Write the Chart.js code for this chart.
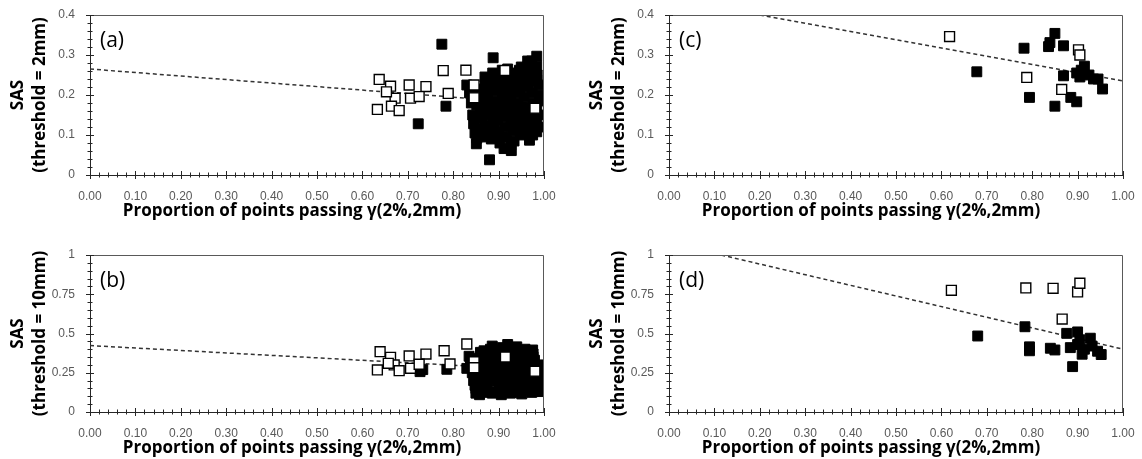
<!DOCTYPE html>
<html>
<head>
<meta charset="utf-8">
<script src="https://cdn.jsdelivr.net/npm/chart.js@4.4.1/dist/chart.umd.min.js"></script>
<style>
  html, body { margin: 0; padding: 0; background: #fff; }
  #wrap { position: relative; width: 1142px; height: 459px; overflow: hidden; }
  .panel { position: absolute; }
</style>
</head>
<body>
<div id="wrap">
  <div class="panel" style="left:0;top:0;width:571px;height:230px"><canvas id="chartA"></canvas></div>
  <div class="panel" style="left:571px;top:0;width:571px;height:230px"><canvas id="chartC"></canvas></div>
  <div class="panel" style="left:0;top:230px;width:571px;height:229px"><canvas id="chartB"></canvas></div>
  <div class="panel" style="left:571px;top:230px;width:571px;height:229px"><canvas id="chartD"></canvas></div>
</div>
<script>
// ---- data ----
const xTickLabels = ['0.00', '0.10', '0.20', '0.30', '0.40', '0.50', '0.60', '0.70', '0.80', '0.90', '1.00'];
const yTicks2mm = ['0', '0.1', '0.2', '0.3', '0.4'];
const yTicks10mm = ['0', '0.25', '0.5', '0.75', '1'];
const xTitle = 'Proportion of points passing γ(2%,2mm)';

// (a) threshold = 2mm, left cohort
const aOpenX = [0.637, 0.662, 0.703, 0.740, 0.633, 0.672, 0.664, 0.681, 0.653, 0.706, 0.725, 0.778, 0.789, 0.828, 0.846, 0.846, 0.914, 0.980];
const aOpenY = [0.239, 0.222, 0.225, 0.221, 0.164, 0.192, 0.172, 0.161, 0.208, 0.192, 0.196, 0.261, 0.204, 0.262, 0.225, 0.193, 0.261, 0.167];
const aFilledX = [0.775, 0.723, 0.784, 0.880, 0.888, 0.830, 0.836, 0.840, 0.843, 0.845, 0.848, 0.851, 0.855, 0.858, 0.860, 0.862,
  0.865, 0.868, 0.870, 0.873, 0.876, 0.878, 0.880, 0.882, 0.884, 0.887, 0.890, 0.892, 0.894, 0.896, 0.898, 0.900,
  0.903, 0.905, 0.907, 0.909, 0.911, 0.913, 0.915, 0.917, 0.912, 0.928, 0.920, 0.922, 0.924, 0.926, 0.928, 0.930,
  0.932, 0.934, 0.936, 0.938, 0.940, 0.942, 0.944, 0.946, 0.948, 0.950, 0.952, 0.954, 0.956, 0.958, 0.960, 0.962,
  0.968, 0.964, 0.973, 0.984, 0.970, 0.972, 0.974, 0.976, 0.978, 0.980, 0.975, 0.988, 0.990, 0.995, 0.992, 0.990, 0.985,
  0.852, 0.852, 0.852, 0.852, 0.852, 0.871, 0.871, 0.871, 0.871, 0.871, 0.871, 0.889, 0.889, 0.889, 0.889, 0.889, 0.889,
  0.908, 0.908, 0.908, 0.908, 0.908, 0.908, 0.927, 0.927, 0.927, 0.927, 0.927, 0.927, 0.927, 0.946, 0.946, 0.946, 0.946,
  0.946, 0.946, 0.965, 0.965, 0.965, 0.965, 0.965, 0.965, 0.984, 0.984, 0.984, 0.984, 0.984];
const aFilledY = [0.327, 0.128, 0.172, 0.038, 0.293, 0.225, 0.205, 0.180, 0.150, 0.128, 0.105, 0.078, 0.215, 0.190, 0.165, 0.140,
  0.115, 0.095, 0.245, 0.228, 0.200, 0.175, 0.150, 0.125, 0.090, 0.255, 0.230, 0.210, 0.185, 0.160, 0.135, 0.110,
  0.080, 0.250, 0.225, 0.195, 0.170, 0.145, 0.120, 0.095, 0.066, 0.061, 0.265, 0.240, 0.215, 0.190, 0.165, 0.140,
  0.110, 0.085, 0.255, 0.230, 0.205, 0.180, 0.155, 0.125, 0.100, 0.270, 0.245, 0.220, 0.195, 0.170, 0.145, 0.115,
  0.087, 0.285, 0.285, 0.297, 0.260, 0.235, 0.205, 0.180, 0.150, 0.125, 0.100, 0.225, 0.200, 0.185, 0.120, 0.150, 0.250,
  0.205, 0.175, 0.145, 0.115, 0.092, 0.235, 0.208, 0.180, 0.152, 0.122, 0.105, 0.242, 0.218, 0.172, 0.145, 0.118, 0.098,
  0.262, 0.238, 0.212, 0.185, 0.158, 0.095, 0.252, 0.228, 0.202, 0.178, 0.150, 0.122, 0.075, 0.262, 0.232, 0.212, 0.165,
  0.138, 0.112, 0.272, 0.248, 0.225, 0.158, 0.132, 0.105, 0.272, 0.238, 0.165, 0.138, 0.108];
const aTrendX = [0, 1];
const aTrendY = [0.265, 0.177];

// (b) threshold = 10mm, left cohort
const bOpenX = [0.639, 0.662, 0.703, 0.740, 0.633, 0.670, 0.681, 0.706, 0.725, 0.657, 0.780, 0.793, 0.830, 0.846, 0.846, 0.915, 0.980];
const bOpenY = [0.384, 0.348, 0.357, 0.369, 0.268, 0.300, 0.263, 0.278, 0.304, 0.310, 0.390, 0.306, 0.433, 0.320, 0.282, 0.350, 0.260];
const bFilledX = [0.727, 0.733, 0.786, 0.830, 0.835, 0.838, 0.842, 0.845, 0.848, 0.852, 0.858, 0.860, 0.862, 0.865, 0.868, 0.870,
  0.873, 0.876, 0.879, 0.882, 0.885, 0.888, 0.891, 0.894, 0.897, 0.900, 0.903, 0.906, 0.908, 0.911, 0.914, 0.917,
  0.920, 0.922, 0.924, 0.926, 0.920, 0.930, 0.933, 0.936, 0.939, 0.942, 0.945, 0.948, 0.951, 0.955, 0.958, 0.961,
  0.964, 0.967, 0.970, 0.973, 0.976, 0.979, 0.982, 0.985, 0.988, 0.990, 0.996, 0.975,
  0.850, 0.850, 0.850, 0.850, 0.850, 0.850, 0.868, 0.868, 0.868, 0.868, 0.868, 0.868, 0.868,
  0.886, 0.886, 0.886, 0.886, 0.886, 0.886, 0.886, 0.904, 0.904, 0.904, 0.904, 0.904, 0.904, 0.904,
  0.922, 0.922, 0.922, 0.922, 0.922, 0.922, 0.922, 0.940, 0.940, 0.940, 0.940, 0.940, 0.940, 0.940,
  0.958, 0.958, 0.958, 0.958, 0.958, 0.958, 0.958, 0.976, 0.976, 0.976, 0.976, 0.976, 0.976,
  0.994, 0.994, 0.994, 0.994, 0.994];
const bFilledY = [0.257, 0.270, 0.272, 0.278, 0.355, 0.320, 0.250, 0.200, 0.170, 0.130, 0.110, 0.380, 0.340, 0.300, 0.260, 0.220,
  0.185, 0.150, 0.125, 0.400, 0.360, 0.320, 0.280, 0.240, 0.200, 0.165, 0.130, 0.110, 0.410, 0.370, 0.310, 0.270,
  0.230, 0.190, 0.150, 0.120, 0.430, 0.395, 0.355, 0.300, 0.260, 0.215, 0.175, 0.140, 0.115, 0.380, 0.340, 0.290,
  0.250, 0.205, 0.160, 0.125, 0.370, 0.330, 0.280, 0.235, 0.190, 0.150, 0.230, 0.395,
  0.340, 0.290, 0.240, 0.190, 0.150, 0.120, 0.390, 0.350, 0.310, 0.270, 0.230, 0.190, 0.140,
  0.420, 0.380, 0.335, 0.295, 0.255, 0.215, 0.120, 0.395, 0.350, 0.300, 0.260, 0.220, 0.180, 0.140,
  0.410, 0.370, 0.330, 0.285, 0.245, 0.205, 0.135, 0.415, 0.375, 0.335, 0.280, 0.240, 0.195, 0.125,
  0.400, 0.360, 0.315, 0.270, 0.230, 0.185, 0.140, 0.350, 0.305, 0.260, 0.215, 0.170, 0.130,
  0.300, 0.260, 0.200, 0.160, 0.130];
const bTrendX = [0, 1];
const bTrendY = [0.423, 0.267];

// (c) threshold = 2mm, right cohort
const cOpenX = [0.618, 0.788, 0.865, 0.902, 0.905];
const cOpenY = [0.346, 0.244, 0.214, 0.313, 0.300];
const cFilledX = [0.678, 0.782, 0.794, 0.836, 0.839, 0.850, 0.869, 0.869, 0.850, 0.885, 0.898, 0.898, 0.905, 0.915, 0.925, 0.935, 0.945, 0.955, 0.908];
const cFilledY = [0.258, 0.317, 0.194, 0.321, 0.331, 0.354, 0.323, 0.248, 0.172, 0.194, 0.183, 0.255, 0.245, 0.272, 0.250, 0.240, 0.240, 0.215, 0.262];
const cTrendX = [0.2, 1];
const cTrendY = [0.4, 0.235];

// (d) threshold = 10mm, right cohort
const dOpenX = [0.622, 0.786, 0.846, 0.866, 0.900, 0.905];
const dOpenY = [0.775, 0.790, 0.788, 0.592, 0.765, 0.820];
const dFilledX = [0.680, 0.784, 0.794, 0.794, 0.840, 0.850, 0.876, 0.884, 0.889, 0.900, 0.905, 0.910, 0.915, 0.928, 0.932, 0.944, 0.952, 0.900];
const dFilledY = [0.484, 0.543, 0.415, 0.390, 0.406, 0.395, 0.501, 0.410, 0.289, 0.510, 0.460, 0.368, 0.400, 0.470, 0.420, 0.387, 0.366, 0.430];
const dTrendX = [0.115, 1];
const dTrendY = [1.0, 0.40];

function pts(xs, ys) {
    return xs.map((x, i) => ({ x: x, y: ys[i] }));
}

// Excel-like frame: box around plot area, major + minor tick marks, panel letter, x title
const excelFrame = {
    id: 'excelFrame',
    afterDraw(chart, args, opts) {
        const ctx = chart.ctx;
        const area = chart.chartArea;
        const xs = chart.scales.x;
        const ys = chart.scales.y;
        ctx.save();
        ctx.strokeStyle = '#595959';
        ctx.lineWidth = 1;
        ctx.beginPath();
        ctx.moveTo(area.left, area.top + 0.5);
        ctx.lineTo(area.right - 0.5, area.top + 0.5);
        ctx.lineTo(area.right - 0.5, area.bottom);
        ctx.stroke();

        ctx.strokeStyle = '#262626';
        ctx.beginPath();
        const nx = Math.round((xs.max - xs.min) / opts.xMinor);
        for (let i = 0; i <= nx; i++) {
            const px = Math.round(xs.getPixelForValue(xs.min + i * opts.xMinor)) + 0.5;
            const len = i % 5 === 0 ? 4 : 2.5;
            ctx.moveTo(px, area.bottom - len);
            ctx.lineTo(px, area.bottom + len);
        }
        const ny = Math.round((ys.max - ys.min) / opts.yMinor);
        for (let i = 0; i <= ny; i++) {
            const py = Math.round(ys.getPixelForValue(ys.min + i * opts.yMinor)) + 0.5;
            const len = i % 5 === 0 ? 4 : 2.5;
            ctx.moveTo(area.left - len, py);
            ctx.lineTo(area.left + len, py);
        }
        ctx.stroke();

        ctx.fillStyle = '#000';
        ctx.font = '21px "Open Sans"';
        ctx.textBaseline = 'middle';
        ctx.textAlign = 'left';
        ctx.fillText(opts.label, area.left + 10, area.top + 26);

        // x axis title sits a little left of centre, as in the original
        ctx.font = 'bold 17px "Open Sans"';
        ctx.textAlign = 'center';
        ctx.fillText(xTitle, (area.left + area.right) / 2 - 25, area.bottom + 36);
        ctx.restore();
    }
};

function makePanel(id, cfg) {
    const ctx = document.getElementById(id).getContext('2d');
    return new Chart(ctx, {
        type: 'scatter',
        data: {
            datasets: [{
                data: pts(cfg.openX, cfg.openY),
                pointStyle: 'rect',
                pointRadius: 7,
                pointHoverRadius: 7,
                backgroundColor: '#fff',
                borderColor: '#000',
                borderWidth: 1.4,
                order: 0
            }, {
                data: pts(cfg.filledX, cfg.filledY),
                pointStyle: 'rect',
                pointRadius: 7,
                pointHoverRadius: 7,
                backgroundColor: '#000',
                borderColor: '#000',
                borderWidth: 1,
                order: 1
            }, {
                data: pts(cfg.trendX, cfg.trendY),
                showLine: true,
                pointRadius: 0,
                borderColor: '#333',
                borderWidth: 1.5,
                borderDash: [4, 3],
                order: 2
            }]
        },
        options: {
            responsive: true,
            maintainAspectRatio: false,
            animation: false,
            events: [],
            layout: {
                padding: { top: cfg.padTop, right: cfg.padRight, left: 0, bottom: 0 }
            },
            plugins: {
                legend: { display: false },
                tooltip: { enabled: false },
                excelFrame: { label: cfg.label, xMinor: 0.02, yMinor: cfg.yMinor }
            },
            scales: {
                x: {
                    type: 'linear',
                    min: 0,
                    max: 1,
                    grid: { display: false },
                    border: { display: true, color: '#262626', width: 1 },
                    afterFit: (s) => { s.height = cfg.xAxisHeight; },
                    ticks: {
                        stepSize: 0.1,
                        maxRotation: 0,
                        autoSkip: false,
                        padding: 6,
                        color: '#595959',
                        font: { family: 'Liberation Sans', size: 12 },
                        callback: (v) => xTickLabels[Math.round(v * 10)]
                    },
                    title: { display: false }
                },
                y: {
                    type: 'linear',
                    min: 0,
                    max: cfg.yMax,
                    grid: { display: false },
                    border: { display: true, color: '#262626', width: 1 },
                    afterFit: (s) => { s.width = cfg.yAxisWidth; },
                    ticks: {
                        stepSize: cfg.yStep,
                        autoSkip: false,
                        padding: 7,
                        color: '#595959',
                        font: { family: 'Liberation Sans', size: 12 },
                        callback: (v, i) => cfg.yLabels[i]
                    },
                    title: {
                        display: true,
                        text: cfg.yTitle,
                        color: '#000',
                        font: { family: 'Open Sans', size: 17, weight: 'bold', lineHeight: 1.3 },
                        padding: { top: cfg.yTitlePad, bottom: 0 }
                    }
                }
            }
        },
        plugins: [excelFrame]
    });
}

makePanel('chartA', {
    label: '(a)', openX: aOpenX, openY: aOpenY, filledX: aFilledX, filledY: aFilledY, trendX: aTrendX, trendY: aTrendY,
    yMax: 0.4, yStep: 0.1, yMinor: 0.02, yLabels: yTicks2mm, yTitle: ['SAS', '(threshold = 2mm)'],
    padTop: 15, padRight: 27, yAxisWidth: 90, xAxisHeight: 55, yTitlePad: 7
});
makePanel('chartC', {
    label: '(c)', openX: cOpenX, openY: cOpenY, filledX: cFilledX, filledY: cFilledY, trendX: cTrendX, trendY: cTrendY,
    yMax: 0.4, yStep: 0.1, yMinor: 0.02, yLabels: yTicks2mm, yTitle: ['SAS', '(threshold = 2mm)'],
    padTop: 15, padRight: 19, yAxisWidth: 98, xAxisHeight: 55, yTitlePad: 15
});
makePanel('chartB', {
    label: '(b)', openX: bOpenX, openY: bOpenY, filledX: bFilledX, filledY: bFilledY, trendX: bTrendX, trendY: bTrendY,
    yMax: 1, yStep: 0.25, yMinor: 0.05, yLabels: yTicks10mm, yTitle: ['SAS', '(threshold = 10mm)'],
    padTop: 25, padRight: 27, yAxisWidth: 90, xAxisHeight: 47, yTitlePad: 7
});
makePanel('chartD', {
    label: '(d)', openX: dOpenX, openY: dOpenY, filledX: dFilledX, filledY: dFilledY, trendX: dTrendX, trendY: dTrendY,
    yMax: 1, yStep: 0.25, yMinor: 0.05, yLabels: yTicks10mm, yTitle: ['SAS', '(threshold = 10mm)'],
    padTop: 25, padRight: 19, yAxisWidth: 98, xAxisHeight: 47, yTitlePad: 15
});
</script>
</body>
</html>
